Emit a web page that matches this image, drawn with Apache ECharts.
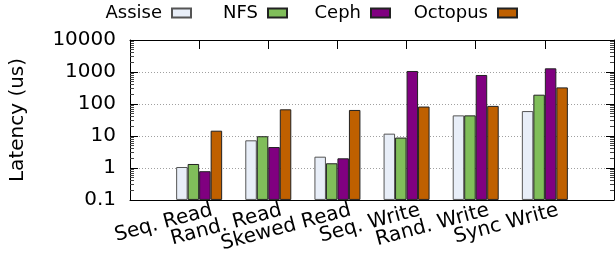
<!DOCTYPE html>
<html>
<head>
<meta charset="utf-8">
<script src="https://cdn.jsdelivr.net/npm/echarts@6/dist/echarts.min.js"></script>
<style>
  html, body { margin: 0; padding: 0; background: #fff; }
  #chart { width: 615px; height: 255px; }
</style>
</head>
<body>
<div id="chart"></div>
<script>
const categories = ["Seq. Read", "Rand. Read", "Skewed Read", "Seq. Write", "Rand. Write", "Sync Write"];
const assise = [1.07, 7.3, 2.25, 11.8, 44, 60];
const nfs = [1.33, 9.8, 1.4, 8.9, 44, 195];
const ceph = [0.79, 4.5, 2.0, 1075, 806, 1300];
const octopus = [14.6, 68, 65, 83, 87, 330];
const yTicks = [0.1, 1, 10, 100, 1000, 10000];

const font = "DejaVu Sans";
const colors = ["#e8eef8", "#80be5a", "#800080", "#bf6000"];
const borders = ["#555555", "#222222", "#222222", "#222222"];
const names = ["Assise", "NFS", "Ceph", "Octopus"];
const values = [assise, nfs, ceph, octopus];
// box right edges for legend entries
const legendRight = [615 - 192, 615 - 288, 615 - 391, 615 - 518];
// label shift to the right, in category units
const labelShift = 0.19;

const chart = echarts.init(document.getElementById("chart"));

const logAxis = (pos) => ({
  type: "log",
  logBase: 10,
  min: 0.1,
  max: 10000,
  startValue: 0.1,
  position: pos,
  axisLine: { show: true, onZero: false, lineStyle: { color: "#000", width: 1 } },
  axisTick: { show: true, inside: true, length: 8, lineStyle: { color: "#000", width: 1 } },
  minorTick: { show: true, splitNumber: 9, length: 4, lineStyle: { color: "#444", width: 1 } },
  axisLabel: pos === "left" ? {
    show: true,
    margin: 14,
    color: "#000",
    fontFamily: font,
    fontSize: 20,
    formatter: (v) => (yTicks.includes(+v) ? String(+v) : "")
  } : { show: false },
  splitLine: pos === "left" ? { show: true, lineStyle: { color: "#a0a0a0", type: [1, 2], width: 1 } } : { show: false },
  name: pos === "left" ? "Latency (us)" : "",
  nameLocation: "middle",
  nameGap: 102,
  nameTextStyle: { color: "#000", fontFamily: font, fontSize: 20 }
});

const option = {
  animation: false,
  legend: names.map((n, i) => ({
    data: [n],
    right: legendRight[i],
    top: 4,
    padding: 0,
    align: "right",
    itemWidth: 19,
    itemHeight: 9,
    icon: "rect",
    textStyle: { color: "#000", fontFamily: font, fontSize: 18, padding: [0, 5, 0, 0] }
  })),
  grid: { left: 130, right: 1, top: 40, bottom: 55 },
  xAxis: [
    {
      type: "value",
      min: -1,
      max: 6,
      interval: 1,
      position: "bottom",
      axisLine: { show: true, onZero: false, lineStyle: { color: "#000" } },
      axisTick: { show: false },
      splitLine: { show: false },
      axisLabel: { show: false }
    },
    {
      type: "value",
      min: -1,
      max: 6,
      interval: 1,
      position: "top",
      axisLine: { show: true, onZero: false, lineStyle: { color: "#000" } },
      axisTick: { show: true, inside: true, length: 9, lineStyle: { color: "#000" } },
      splitLine: { show: false },
      axisLabel: { show: false }
    },
    {
      // label-only axis, shifted so rotated labels sit like the original
      type: "value",
      min: -1 - labelShift,
      max: 6 - labelShift,
      splitNumber: 7,
      position: "bottom",
      axisLine: { show: false, onZero: false },
      axisTick: { show: false },
      splitLine: { show: false },
      axisLabel: {
        rotate: 15,
        margin: 10,
        color: "#000",
        fontFamily: font,
        fontSize: 20,
        showMinLabel: false,
        showMaxLabel: false,
        formatter: (v) => (Number.isInteger(v) && categories[v]) || ""
      }
    }
  ],
  yAxis: [logAxis("left"), logAxis("right")],
  series: names.map((n, i) => ({
    name: n,
    type: "bar",
    xAxisIndex: 0,
    yAxisIndex: 0,
    barWidth: 11.5,
    barGap: "0%",
    data: values[i].map((v, j) => [j, v]),
    itemStyle: { color: colors[i], borderColor: borders[i], borderWidth: 1 }
  }))
};

chart.setOption(option);
</script>
</body>
</html>
